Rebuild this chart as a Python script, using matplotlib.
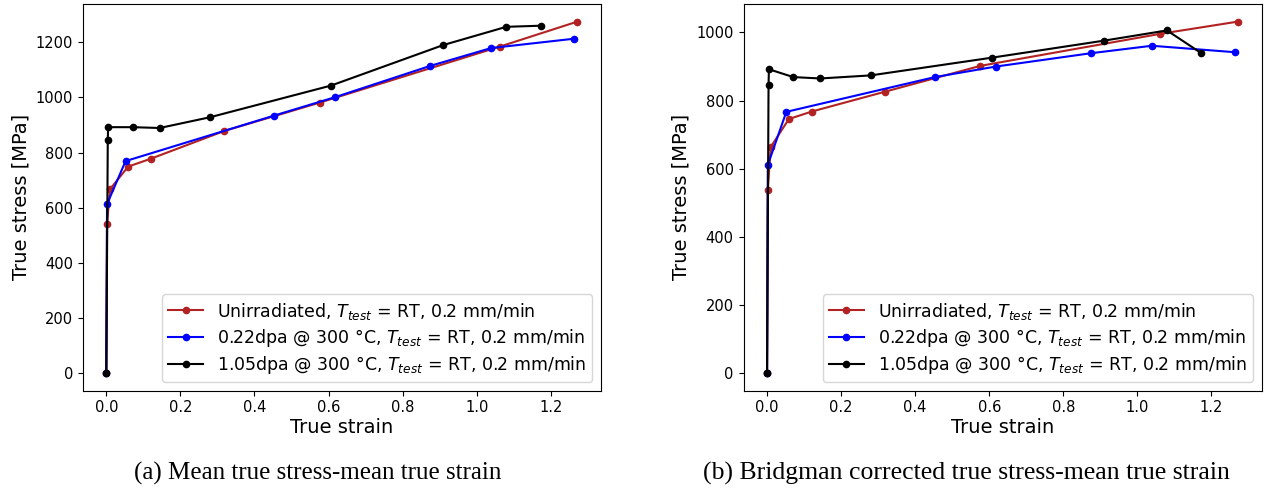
import matplotlib
matplotlib.use("Agg")
import matplotlib.pyplot as plt

# mean true strain, shared by both panels
strain_unirr = [0.0, 0.002, 0.010, 0.059, 0.121, 0.318, 0.576, 1.062, 1.272]
strain_022 = [0.0, 0.002, 0.052, 0.453, 0.618, 0.874, 1.039, 1.264]
strain_105 = [0.0, 0.004, 0.005, 0.071, 0.144, 0.280, 0.607, 0.910, 1.080, 1.173]

# (a) mean true stress [MPa]
stress_mean_unirr = [0, 540, 667, 749, 778, 878, 981, 1184, 1275]
stress_mean_022 = [0, 613, 769, 934, 1001, 1114, 1179, 1213]
stress_mean_105 = [0, 847, 892, 892, 889, 928, 1043, 1190, 1256, 1260]

# (b) Bridgman corrected true stress [MPa]
stress_bridg_unirr = [0, 538, 664, 746, 768, 826, 902, 996, 1032]
stress_bridg_022 = [0, 611, 767, 869, 900, 939, 961, 942]
stress_bridg_105 = [0, 846, 892, 869, 865, 874, 926, 976, 1006, 939]

labels = [
    r"Unirradiated, $T_{test}$ = RT, 0.2 mm/min",
    r"0.22dpa @ 300 °C, $T_{test}$ = RT, 0.2 mm/min",
    r"1.05dpa @ 300 °C, $T_{test}$ = RT, 0.2 mm/min",
]
colors = ["firebrick", "blue", "black"]
captions = [
    "(a) Mean true stress-mean true strain",
    "(b) Bridgman corrected true stress-mean true strain",
]

fig = plt.figure(figsize=(12.69, 4.93), dpi=100)
ax_a = fig.add_axes([0.0652, 0.2075, 0.4084, 0.7844])
ax_b = fig.add_axes([0.5859, 0.2075, 0.4083, 0.7844])

panels = [
    (ax_a, [stress_mean_unirr, stress_mean_022, stress_mean_105]),
    (ax_b, [stress_bridg_unirr, stress_bridg_022, stress_bridg_105]),
]
strains = [strain_unirr, strain_022, strain_105]

for ax, stresses in panels:
    for x, y, lab, col in zip(strains, stresses, labels, colors):
        ax.plot(x, y, "-o", color=col, label=lab, lw=1.5, ms=4.5)
    ax.set_xlabel("True strain", fontsize=14, labelpad=2)
    ax.set_ylabel("True stress [MPa]", fontsize=14)
    ax.tick_params(labelsize=10.5)
    ax.legend(loc="lower right", fontsize=12.5, handlelength=2.0,
              labelspacing=0.3, borderpad=0.35)

fig.text(0.2505, 0.040, captions[0], ha="center", va="center",
         fontsize=18, family="Liberation Serif")
fig.text(0.7615, 0.040, captions[1], ha="center", va="center",
         fontsize=18.5, family="Liberation Serif")

fig.savefig("out.png", dpi=100)
